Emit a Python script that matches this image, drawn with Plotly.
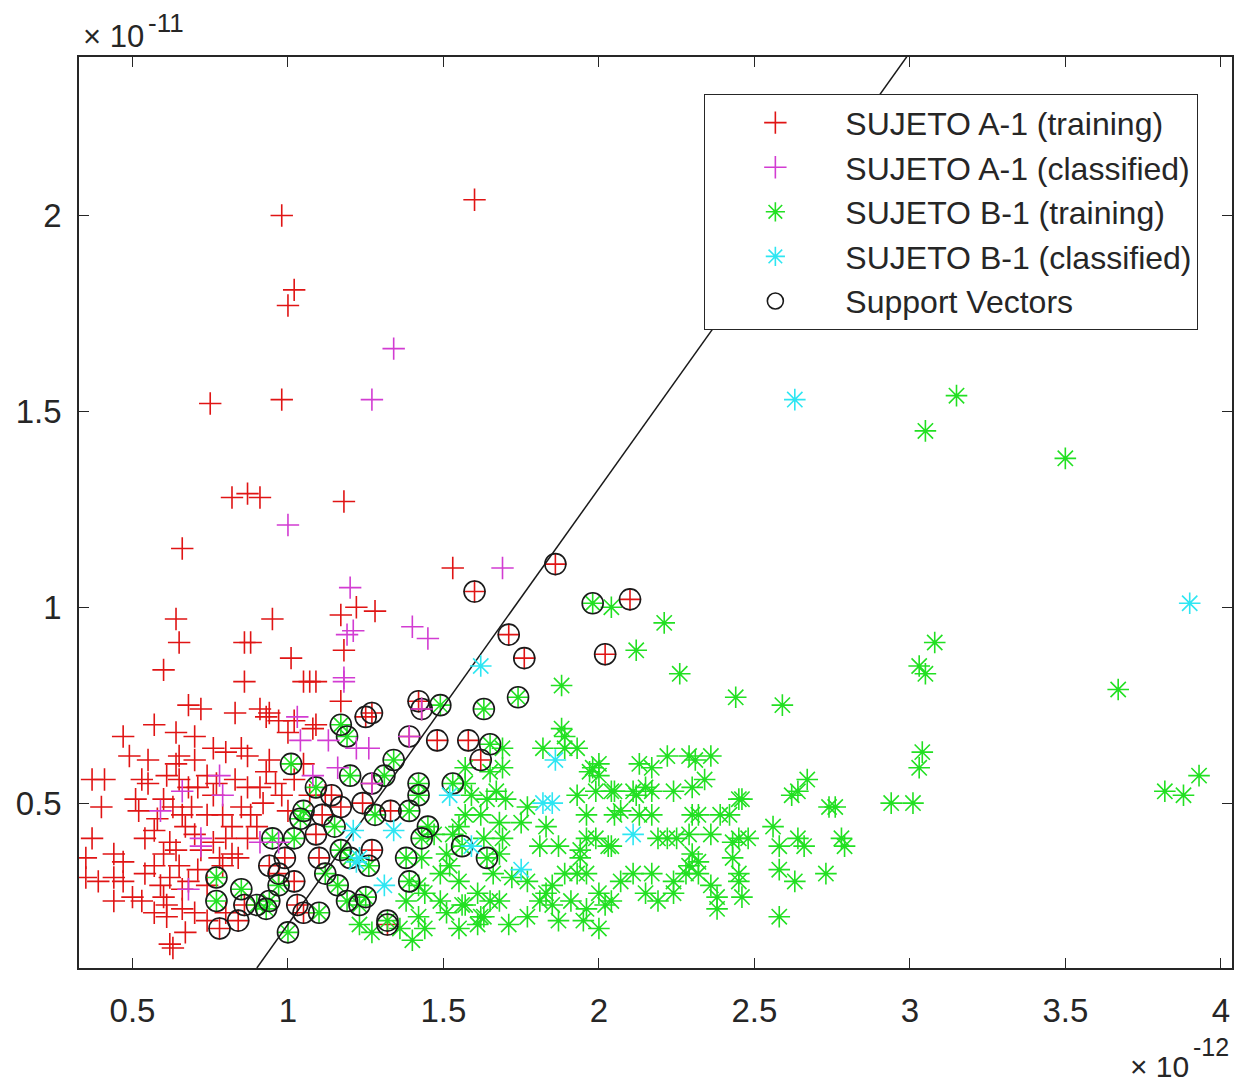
import plotly.graph_objects as go

# ---------------- data (x in units of 1e-12, y in units of 1e-11) ----------------
# SUJETO A-1 training points (not support vectors)
a_train_x = [0.98, 1.60, 1.02, 1.00, 0.75, 0.98, 0.82, 0.87, 0.91, 1.18, 0.66, 1.53, 1.22, 1.28, 1.17,
             0.64, 0.65, 0.95, 0.86, 0.88, 1.18, 0.60, 1.01, 1.05, 1.07, 1.09, 0.86, 1.17, 1.09, 0.93,
             0.97, 1.02, 0.68, 0.72, 0.83, 0.91, 0.94, 0.57, 0.47, 0.64, 0.70, 0.49, 0.55, 0.65, 0.64,
             0.70, 0.76, 0.80, 0.85, 0.87, 0.94, 0.37, 0.41, 0.40, 0.53, 0.55, 0.61, 0.65, 0.68, 0.74,
             0.77, 0.83, 0.87, 0.91, 0.93, 0.51, 0.52, 0.60, 0.63, 0.69, 0.74, 0.79, 0.85, 0.88, 0.37,
             0.35, 0.44, 0.47, 0.54, 0.57, 0.60, 0.64, 0.67, 0.70, 0.76, 0.80, 0.82, 0.84, 0.87, 0.35,
             0.39, 0.44, 0.47, 0.54, 0.57, 0.59, 0.62, 0.65, 0.66, 0.68, 0.71, 0.74, 0.79, 0.50, 0.53,
             0.60, 0.61, 0.57, 0.61, 0.66, 0.70, 0.44, 0.62, 0.63, 0.67, 0.74, 0.80, 0.72, 0.78, 0.62,
             0.58, 0.66, 0.82, 0.76, 0.71, 0.90, 0.92, 0.96, 0.98, 1.00, 1.02, 1.05, 1.07, 1.00, 1.08,
             1.12]
a_train_y = [2.00, 2.04, 1.81, 1.77, 1.52, 1.53, 1.28, 1.29, 1.28, 1.27, 1.15, 1.10, 1.00, 0.99, 0.98,
             0.97, 0.91, 0.97, 0.91, 0.91, 0.89, 0.84, 0.87, 0.81, 0.81, 0.81, 0.81, 0.76, 0.70, 0.72,
             0.71, 0.71, 0.75, 0.74, 0.73, 0.74, 0.73, 0.70, 0.67, 0.68, 0.67, 0.62, 0.61, 0.62, 0.60,
             0.61, 0.64, 0.63, 0.64, 0.62, 0.61, 0.56, 0.56, 0.49, 0.56, 0.55, 0.57, 0.56, 0.54, 0.57,
             0.55, 0.56, 0.54, 0.54, 0.58, 0.51, 0.48, 0.51, 0.49, 0.49, 0.47, 0.47, 0.49, 0.47, 0.41,
             0.36, 0.37, 0.35, 0.41, 0.43, 0.37, 0.38, 0.44, 0.42, 0.40, 0.41, 0.37, 0.36, 0.41, 0.31,
             0.30, 0.31, 0.30, 0.32, 0.34, 0.29, 0.31, 0.34, 0.28, 0.30, 0.33, 0.29, 0.34, 0.26, 0.25,
             0.26, 0.24, 0.22, 0.21, 0.23, 0.22, 0.25, 0.14, 0.13, 0.17, 0.20, 0.22, 0.38, 0.36, 0.40,
             0.46, 0.47, 0.44, 0.52, 0.54, 0.44, 0.50, 0.55, 0.52, 0.48, 0.56, 0.60, 0.52, 0.68, 0.69,
             0.52]

# SUJETO A-1 training points that are support vectors
a_sv_x = [1.60, 1.86, 2.10, 2.02, 1.71, 1.76, 1.42, 1.43, 1.39, 1.48, 1.58, 1.62, 1.27, 1.25, 1.14,
          1.17, 1.24, 1.27, 1.33, 1.11, 1.09, 1.27, 1.10, 1.32, 0.97, 1.02, 1.03, 1.05, 0.78, 0.84,
          0.86, 0.99, 0.94]
a_sv_y = [1.04, 1.11, 1.02, 0.88, 0.93, 0.87, 0.76, 0.74, 0.67, 0.66, 0.66, 0.61, 0.73, 0.72, 0.52,
          0.49, 0.50, 0.55, 0.48, 0.47, 0.42, 0.38, 0.36, 0.19, 0.32, 0.30, 0.24, 0.22, 0.18, 0.20,
          0.24, 0.36, 0.34]

# SUJETO A-1 classified points
a_class_x = [1.34, 1.27, 1.00, 1.69, 1.20, 1.21, 1.19, 1.40, 1.45, 1.18, 1.18, 1.04, 1.13, 1.26, 1.08,
             1.16, 0.78, 0.79, 0.66, 0.72, 0.72, 0.68, 1.39, 1.27, 1.43, 1.03, 0.91, 0.97, 1.22, 0.59]
a_class_y = [1.66, 1.53, 1.21, 1.10, 1.05, 0.94, 0.93, 0.95, 0.92, 0.82, 0.81, 0.66, 0.66, 0.64, 0.57,
             0.59, 0.57, 0.52, 0.53, 0.41, 0.39, 0.28, 0.67, 0.55, 0.74, 0.72, 0.40, 0.40, 0.64, 0.48]

# SUJETO B-1 training points (not support vectors)
b_train_x = [2.04, 2.21, 2.12, 2.26, 2.44, 2.59, 1.88, 3.15, 3.05, 3.50, 3.08, 3.03, 3.05, 3.04, 3.03,
             2.94, 3.01, 3.67, 3.82, 3.88, 3.93, 1.88, 1.82, 1.89, 1.89, 1.93, 1.97, 2.00, 1.69, 1.69,
             1.98, 2.00, 2.13, 2.17, 2.22, 2.29, 2.36, 2.34, 2.30, 2.24, 2.17, 2.11, 2.04, 2.15, 2.12,
             2.05, 1.99, 1.93, 1.57, 1.67, 1.77, 1.75, 1.68, 1.62, 1.96, 2.05, 2.13, 2.30, 2.07, 2.17,
             2.39, 2.45, 2.45, 2.36, 2.29, 2.22, 2.19, 2.25, 2.30, 1.96, 2.03, 1.94, 1.93, 1.87, 1.83,
             1.81, 1.69, 1.68, 1.63, 2.04, 1.99, 1.77, 1.83, 1.85, 1.77, 1.71, 1.65, 1.62, 1.56, 1.66,
             2.00, 2.02, 2.07, 2.11, 2.15, 2.19, 2.24, 2.29, 2.00, 1.95, 1.87, 1.91, 1.96, 2.31, 2.46,
             2.42, 2.32, 2.48, 2.56, 2.58, 2.64, 2.66, 2.62, 2.64, 2.67, 2.74, 2.76, 2.78, 2.79, 2.43,
             2.45, 2.58, 2.63, 2.73, 2.38, 2.38, 2.46, 2.58, 2.32, 1.42, 1.49, 1.55, 1.61, 1.63, 1.68,
             1.72, 1.81, 1.85, 1.89, 1.94, 1.96, 2.04, 2.17, 2.24, 2.28, 2.32, 2.36, 2.45, 2.43, 1.64,
             1.70, 1.65, 1.57, 1.53, 1.47, 1.43, 1.42, 1.52, 1.38, 1.44, 1.49, 1.51, 1.55, 1.57, 1.59,
             1.51, 1.57, 1.44, 1.55, 1.61, 1.36, 1.40, 1.23, 1.27]
b_train_y = [1.00, 0.96, 0.89, 0.83, 0.77, 0.75, 0.80, 1.54, 1.45, 1.38, 0.91, 0.85, 0.83, 0.63, 0.59,
             0.50, 0.50, 0.79, 0.53, 0.52, 0.57, 0.69, 0.64, 0.67, 0.64, 0.64, 0.58, 0.60, 0.64, 0.59,
             0.59, 0.57, 0.60, 0.59, 0.62, 0.62, 0.62, 0.56, 0.54, 0.53, 0.53, 0.53, 0.53, 0.54, 0.52,
             0.53, 0.53, 0.52, 0.55, 0.53, 0.49, 0.45, 0.45, 0.47, 0.47, 0.47, 0.47, 0.47, 0.48, 0.47,
             0.47, 0.51, 0.41, 0.42, 0.42, 0.41, 0.41, 0.41, 0.37, 0.41, 0.39, 0.36, 0.32, 0.39, 0.44,
             0.39, 0.41, 0.37, 0.41, 0.39, 0.41, 0.30, 0.27, 0.24, 0.21, 0.19, 0.25, 0.21, 0.24, 0.32,
             0.27, 0.24, 0.30, 0.32, 0.27, 0.25, 0.30, 0.34, 0.18, 0.20, 0.20, 0.25, 0.32, 0.61, 0.51,
             0.47, 0.47, 0.41, 0.44, 0.39, 0.41, 0.39, 0.52, 0.53, 0.56, 0.49, 0.49, 0.41, 0.39, 0.36,
             0.32, 0.33, 0.30, 0.32, 0.26, 0.23, 0.26, 0.21, 0.32, 0.21, 0.25, 0.30, 0.27, 0.21, 0.25,
             0.31, 0.25, 0.29, 0.32, 0.38, 0.23, 0.25, 0.32, 0.27, 0.32, 0.35, 0.29, 0.30, 0.40, 0.51,
             0.51, 0.58, 0.59, 0.42, 0.42, 0.36, 0.29, 0.34, 0.25, 0.27, 0.32, 0.37, 0.44, 0.47, 0.52,
             0.22, 0.24, 0.18, 0.18, 0.19, 0.18, 0.15, 0.19, 0.17]

# SUJETO B-1 training points that are support vectors
b_sv_x = [1.98, 1.49, 1.63, 1.74, 1.65, 1.17, 1.19, 1.01, 1.34, 1.31, 1.20, 1.09, 1.42, 1.42, 1.39,
          1.45, 1.43, 1.38, 1.39, 1.28, 1.53, 1.56, 1.64, 1.05, 1.04, 1.15, 1.17, 1.20, 1.26, 1.12,
          1.16, 1.19, 1.23, 1.25, 1.10, 1.00, 1.32, 0.94, 0.97, 1.02, 0.95, 0.77, 0.77, 0.85, 0.90,
          0.93]
b_sv_y = [1.01, 0.75, 0.74, 0.77, 0.65, 0.70, 0.67, 0.60, 0.61, 0.57, 0.57, 0.54, 0.55, 0.52, 0.48,
          0.44, 0.41, 0.36, 0.30, 0.47, 0.55, 0.39, 0.36, 0.48, 0.46, 0.44, 0.38, 0.36, 0.34, 0.32,
          0.29, 0.25, 0.24, 0.26, 0.22, 0.17, 0.20, 0.25, 0.29, 0.41, 0.41, 0.31, 0.25, 0.28, 0.24,
          0.23]

# SUJETO B-1 classified points
b_class_x = [2.63, 3.90, 1.62, 1.86, 1.82, 1.85, 2.11, 1.75, 1.59, 1.52, 1.34, 1.21, 1.23, 1.31, 1.22]
b_class_y = [1.53, 1.01, 0.85, 0.61, 0.50, 0.50, 0.42, 0.33, 0.39, 0.52, 0.43, 0.43, 0.36, 0.29, 0.35]

# separating line (end points of the SVM decision boundary)
boundary_x = [0.90, 2.99]
boundary_y = [0.079, 2.405]

x_ticks = [0.5, 1, 1.5, 2, 2.5, 3, 3.5, 4]
x_tick_text = ["0.5", "1", "1.5", "2", "2.5", "3", "3.5", "4"]
y_ticks = [0.5, 1, 1.5, 2]
y_tick_text = ["0.5", "1", "1.5", "2"]
y_exponent = "-11"
x_exponent = "-12"

# ---------------- figure ----------------
FONT = "Liberation Sans, Arial, Helvetica, sans-serif"
AX = "#262626"
RED = "#e01414"
MAGENTA = "#d23cd2"
GREEN = "#22e022"
CYAN = "#2ee6f2"

fig = go.Figure()

fig.add_trace(go.Scatter(
    x=a_train_x + a_sv_x, y=a_train_y + a_sv_y, mode="markers",
    name="SUJETO A-1 (training)", legendrank=1,
    marker=dict(symbol="cross-thin-open", size=16, color=RED, line=dict(color=RED, width=1.6)),
))
fig.add_trace(go.Scatter(
    x=b_train_x + b_sv_x, y=b_train_y + b_sv_y, mode="markers",
    name="SUJETO B-1 (training)", legendrank=3,
    marker=dict(symbol="asterisk-open", size=18, color=GREEN, line=dict(color=GREEN, width=1.6)),
))
fig.add_trace(go.Scatter(
    x=a_sv_x + b_sv_x, y=a_sv_y + b_sv_y, mode="markers",
    name="Support Vectors", legendrank=5,
    marker=dict(symbol="circle-open", size=21, color="#1a1a1a", line=dict(color="#1a1a1a", width=1.6)),
))
fig.add_trace(go.Scatter(
    x=boundary_x, y=boundary_y, mode="lines", showlegend=False,
    line=dict(color="#1a1a1a", width=1.5),
))
fig.add_trace(go.Scatter(
    x=a_class_x, y=a_class_y, mode="markers",
    name="SUJETO A-1 (classified)", legendrank=2,
    marker=dict(symbol="cross-thin-open", size=16, color=MAGENTA, line=dict(color=MAGENTA, width=1.6)),
))
fig.add_trace(go.Scatter(
    x=b_class_x, y=b_class_y, mode="markers",
    name="SUJETO B-1 (classified)", legendrank=4,
    marker=dict(symbol="asterisk-open", size=18, color=CYAN, line=dict(color=CYAN, width=1.6)),
))

# the page body has an 8px margin, so the figure is placed 8px in from the top-left
OFF = 8
W, H = 1233, 1078
L, R, T, B = 71, 7, 49, 118
PW, PH = W - L - R, H - T - B
PLOT_LEFT, PLOT_TOP, PLOT_BOTTOM = L + OFF, T + OFF, H - B + OFF


def px_x(img_x):
    return (img_x - PLOT_LEFT) / PW


def px_y(img_y):
    return (PLOT_BOTTOM - img_y) / PH


axis_common = dict(
    showgrid=False, zeroline=False, showline=True, linecolor=AX, linewidth=1.5,
    mirror="ticks", ticks="inside", ticklen=10, tickwidth=1.3, tickcolor=AX,
    tickfont=dict(family=FONT, size=33, color=AX),
)

ann_common = dict(xref="paper", yref="paper", showarrow=False, xanchor="left", yanchor="middle")

fig.update_layout(
    width=W, height=H,
    margin=dict(l=L, r=R, t=T, b=B, pad=0),
    paper_bgcolor="white", plot_bgcolor="white",
    font=dict(family=FONT, color=AX),
    xaxis=dict(range=[0.328, 4.036], tickvals=x_ticks, ticktext=x_tick_text,
               ticklabelstandoff=13, **axis_common),
    yaxis=dict(range=[0.079, 2.4045], tickvals=y_ticks, ticktext=y_tick_text,
               ticklabelstandoff=9, **axis_common),
    legend=dict(
        x=px_x(1200), y=px_y(94),
        xanchor="right", yanchor="top",
        bgcolor="white", bordercolor=AX, borderwidth=1.3,
        font=dict(family=FONT, size=32, color=AX),
        itemwidth=130, tracegroupgap=0,
    ),
    annotations=[
        dict(text="\u00d7 10", x=px_x(81), y=px_y(36), font=dict(family=FONT, size=31, color=AX), **ann_common),
        dict(text=y_exponent, x=px_x(146), y=px_y(23), font=dict(family=FONT, size=26, color=AX), **ann_common),
        dict(text="\u00d7 10", x=px_x(1130), y=px_y(1066), font=dict(family=FONT, size=30, color=AX), **ann_common),
        dict(text=x_exponent, x=px_x(1193), y=px_y(1047), font=dict(family=FONT, size=25, color=AX), **ann_common),
    ],
)

fig.write_html("out.html")
